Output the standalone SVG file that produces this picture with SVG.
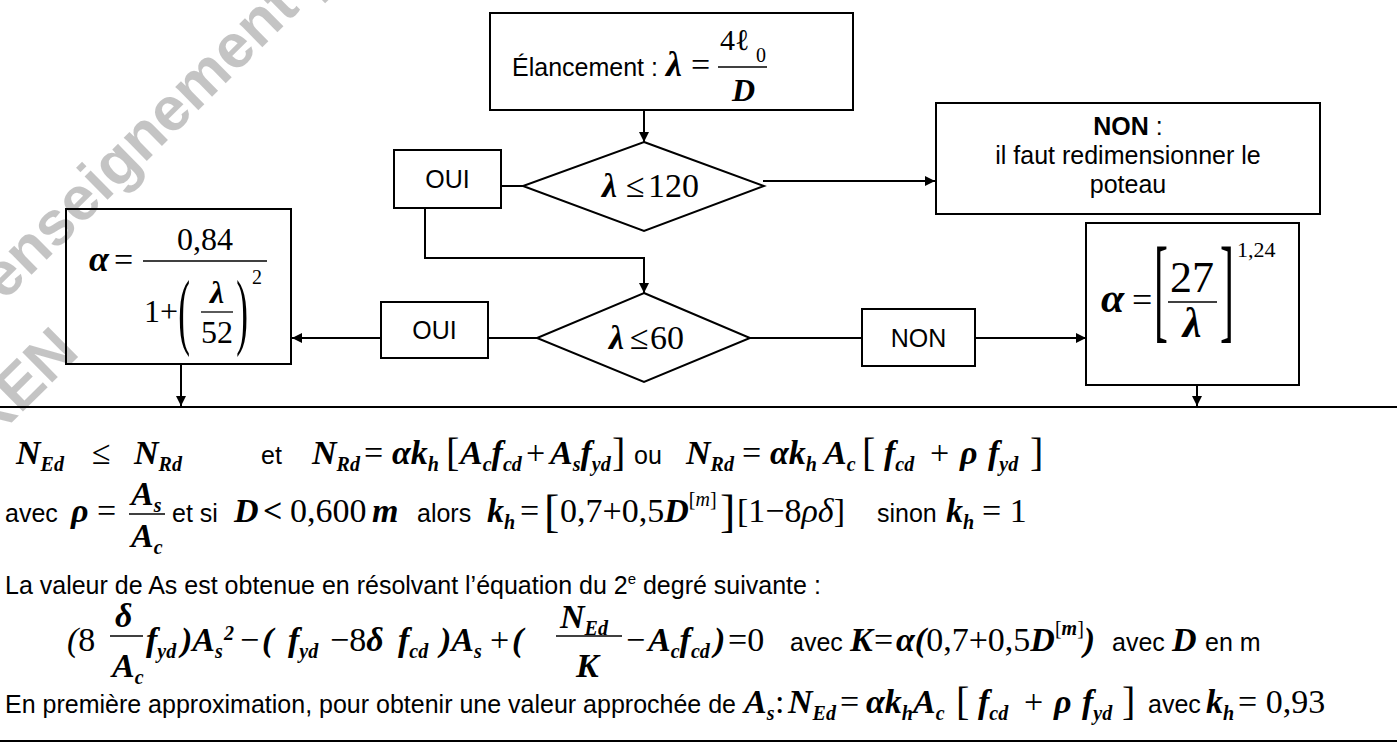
<svg xmlns="http://www.w3.org/2000/svg" width="1397" height="752" viewBox="0 0 1397 752">
<defs>
<marker id="ah" viewBox="0 0 10 10" refX="10" refY="5" markerWidth="10" markerHeight="11" markerUnits="userSpaceOnUse" orient="auto">
<path d="M0,0 L10,5 L0,10 Z" fill="#000"/>
</marker>
<style>
.box{fill:#fff;stroke:#000;stroke-width:2}
.ln{fill:none;stroke:#000;stroke-width:2}
.bar{fill:none;stroke:#000;stroke-width:1.3}
.arr{fill:none;stroke:#000;stroke-width:2;marker-end:url(#ah)}
.t{font-family:"Liberation Sans",Arial,sans-serif;font-size:25px;fill:#000}
.m{font-family:"Liberation Serif","Times New Roman",serif;font-size:34px;fill:#000}
.bi{font-weight:bold;font-style:italic}
.it{font-style:italic}
.s{font-size:20px}
.wm{font-family:"Liberation Sans",Arial,sans-serif;font-size:62px;font-weight:bold;fill:#000;fill-opacity:0.23}
</style>
</defs>
<rect width="1397" height="752" fill="#fff"/>
<g id="connectors">
<line class="arr" x1="644" y1="110" x2="644" y2="142"/>
<line class="arr" x1="763" y1="181" x2="935" y2="181"/>
<line class="ln" x1="501" y1="186" x2="523" y2="186"/>
<path class="arr" d="M425,208 V258 H644 V293"/>
<line class="ln" x1="537" y1="338" x2="488" y2="338"/>
<line class="arr" x1="381" y1="338" x2="292" y2="338"/>
<line class="ln" x1="750" y1="338" x2="862" y2="338"/>
<line class="arr" x1="975" y1="338" x2="1086" y2="338"/>
<line class="arr" x1="181" y1="364" x2="181" y2="406"/>
<line class="arr" x1="1197" y1="385" x2="1197" y2="406"/>
<line class="ln" x1="0" y1="407" x2="1397" y2="407"/>
<line class="ln" x1="0" y1="741" x2="1397" y2="741"/>
</g>
<g id="elancement">
<rect class="box" x="490" y="13" width="363" height="97"/>
<text class="t" x="512" y="76">Élancement :</text>
<text class="m bi" x="666" y="76" style="font-size:36px">λ</text>
<text class="m" x="691" y="76">=</text>
<line class="bar" x1="718" y1="67" x2="767" y2="67"/>
<text class="m" x="720" y="50" style="font-size:30px">4ℓ</text>
<text class="m" x="756" y="62" style="font-size:20px">0</text>
<text class="m bi" x="732" y="101" style="font-size:32px">D</text>
</g>
<g id="oui1">
<rect class="box" x="394" y="150" width="107" height="58"/>
<text class="t" x="447.5" y="188" text-anchor="middle">OUI</text>
</g>
<g id="decision120">
<polygon class="box" points="644,142 764,186 644,231 523,186"/>
<text class="m" x="602" y="197"><tspan class="bi">λ</tspan><tspan x="626">≤</tspan><tspan x="648">120</tspan></text>
</g>
<g id="non1">
<rect class="box" x="936" y="103" width="384" height="111"/>
<text class="t" x="1128" y="135" text-anchor="middle"><tspan font-weight="bold">NON</tspan> :</text>
<text class="t" x="1128" y="164" text-anchor="middle">il faut redimensionner le</text>
<text class="t" x="1128" y="193" text-anchor="middle">poteau</text>
</g>
<g id="decision60">
<polygon class="box" points="644,293 750,338 644,382 537,338"/>
<text class="m" x="609" y="349"><tspan class="bi">λ</tspan><tspan x="630">≤</tspan><tspan x="650">60</tspan></text>
</g>
<g id="oui2">
<rect class="box" x="381" y="302" width="107" height="56"/>
<text class="t" x="434.5" y="339" text-anchor="middle">OUI</text>
</g>
<g id="non2">
<rect class="box" x="862" y="309" width="113" height="57"/>
<text class="t" x="918.5" y="347" text-anchor="middle">NON</text>
</g>
<g id="alpha-left">
<rect class="box" x="66" y="209" width="225" height="155"/>
<text class="m bi" x="89" y="271" style="font-size:36px">α</text>
<text class="m" x="114" y="271">=</text>
<line class="bar" x1="143" y1="261" x2="267" y2="261"/>
<text class="m" x="205" y="250" text-anchor="middle" style="font-size:32px">0,84</text>
<text class="m" x="144" y="322" style="font-size:32px">1+</text>
<text class="m" text-anchor="middle" transform="translate(184,339) scale(0.42,1)" style="font-size:84px">(</text>
<text class="m bi" x="217" y="303" text-anchor="middle" style="font-size:32px">λ</text>
<line class="bar" x1="201" y1="312" x2="233" y2="312"/>
<text class="m" x="217" y="343" text-anchor="middle" style="font-size:32px">52</text>
<text class="m" text-anchor="middle" transform="translate(242,339) scale(0.42,1)" style="font-size:84px">)</text>
<text class="m" x="252" y="284" style="font-size:20px">2</text>
</g>
<g id="alpha-right">
<rect class="box" x="1086" y="223" width="213" height="162"/>
<text class="m bi" x="1101" y="312" style="font-size:42px">α</text>
<text class="m" x="1132" y="312" style="font-size:36px">=</text>
<text class="m" text-anchor="middle" transform="translate(1161,327) scale(0.36,1)" style="font-size:116px">[</text>
<text class="m" x="1192" y="292" text-anchor="middle" style="font-size:44px">27</text>
<line class="bar" x1="1168" y1="302" x2="1217" y2="302"/>
<text class="m bi" x="1192" y="337" text-anchor="middle" style="font-size:42px">λ</text>
<text class="m" text-anchor="middle" transform="translate(1227,327) scale(0.36,1)" style="font-size:116px">]</text>
<text class="m" x="1237" y="257" style="font-size:22px">1,24</text>
</g>
<g id="formulas">
<text class="m"><tspan class="bi" x="16" y="464">N</tspan><tspan class="bi s" y="471">Ed</tspan><tspan x="92" y="464">≤</tspan><tspan class="bi" x="134" y="464">N</tspan><tspan class="bi s" y="471">Rd</tspan></text>
<text class="t" x="261" y="464">et</text>
<text class="m"><tspan class="bi" x="312" y="464">N</tspan><tspan class="bi s" y="471">Rd</tspan><tspan x="364" y="464">=</tspan><tspan class="bi" x="392" y="464">αk</tspan><tspan class="bi s" y="471">h</tspan><tspan x="446" y="466" font-size="40">[</tspan><tspan class="bi" x="460" y="464">A</tspan><tspan class="bi s" y="471">c</tspan><tspan class="bi" y="464">f</tspan><tspan class="bi s" y="471">cd</tspan><tspan x="526" y="464">+</tspan><tspan class="bi" x="550" y="464">A</tspan><tspan class="bi s" y="471">s</tspan><tspan class="bi" y="464">f</tspan><tspan class="bi s" y="471">yd</tspan><tspan x="612" y="466" font-size="40">]</tspan></text>
<text class="t" x="634" y="464">ou</text>
<text class="m"><tspan class="bi" x="686" y="464">N</tspan><tspan class="bi s" y="471">Rd</tspan><tspan x="742" y="464">=</tspan><tspan class="bi" x="770" y="464">αk</tspan><tspan class="bi s" y="471">h</tspan><tspan class="bi" x="824" y="464">A</tspan><tspan class="bi s" y="471">c</tspan><tspan x="862" y="466" font-size="40">[</tspan><tspan class="bi" x="884" y="464">f</tspan><tspan class="bi s" y="471">cd</tspan><tspan x="930" y="464">+</tspan><tspan class="bi" x="960" y="464">ρ</tspan><tspan class="bi" x="988" y="464">f</tspan><tspan class="bi s" y="471">yd</tspan><tspan x="1030" y="466" font-size="40">]</tspan></text>

<text class="t" x="5" y="522">avec</text>
<text class="m"><tspan class="bi" x="71" y="522">ρ</tspan><tspan x="97" y="522">=</tspan></text>
<text class="m bi"><tspan x="131" y="505">A</tspan><tspan class="s" y="512">s</tspan></text>
<line class="bar" x1="129" y1="514" x2="165" y2="514"/>
<text class="m bi"><tspan x="131" y="547">A</tspan><tspan class="s" y="554">c</tspan></text>
<text class="t" x="172" y="522">et si</text>
<text class="m"><tspan class="bi" x="234" y="522">D</tspan><tspan x="263" y="522" font-weight="bold">&lt;</tspan><tspan x="290" y="522">0,600</tspan><tspan class="bi" x="372" y="522">m</tspan></text>
<text class="t" x="417" y="522">alors</text>
<text class="m"><tspan class="bi" x="487" y="522">k</tspan><tspan class="bi s" y="529">h</tspan><tspan x="520" y="522">=</tspan><tspan x="544" y="527" font-size="46">[</tspan><tspan x="560" y="522">0,7+0,5</tspan><tspan class="bi" y="522">D</tspan><tspan class="s" y="506">[</tspan><tspan class="s it" y="506">m</tspan><tspan class="s" y="506">]</tspan><tspan x="720" y="527" font-size="46">]</tspan><tspan x="737" y="522">[1−8</tspan><tspan class="it" y="522">ρδ</tspan><tspan y="522">]</tspan></text>
<text class="t" x="877" y="522">sinon</text>
<text class="m"><tspan class="bi" x="946" y="522">k</tspan><tspan class="bi s" y="529">h</tspan><tspan x="982" y="522">= 1</tspan></text>

<text class="t" x="5" y="594">La valeur de As est obtenue en résolvant l’équation du 2<tspan font-size="15" dy="-10">e</tspan><tspan dy="10"> degré suivante :</tspan></text>

<text class="m" x="67" y="651"><tspan class="it">(</tspan>8</text>
<text class="m bi" x="115" y="627">δ</text>
<line class="bar" x1="110" y1="636" x2="143" y2="636"/>
<text class="m bi"><tspan x="112" y="677">A</tspan><tspan class="s" y="684">c</tspan></text>
<text class="m"><tspan class="bi" x="146" y="651">f</tspan><tspan class="bi s" y="658">yd</tspan><tspan class="bi" x="181" y="651">)A</tspan><tspan class="bi s" y="658">s</tspan><tspan class="bi s" x="224" y="640">2</tspan><tspan x="240" y="651">−</tspan><tspan class="bi" x="262" y="651">(</tspan><tspan class="bi" x="288" y="651">f</tspan><tspan class="bi s" y="658">yd</tspan><tspan x="330" y="651">−8</tspan><tspan class="bi" y="651">δ</tspan><tspan class="bi" x="398" y="651">f</tspan><tspan class="bi s" y="658">cd</tspan><tspan class="bi" x="440" y="651">)A</tspan><tspan class="bi s" y="658">s</tspan><tspan x="490" y="651">+</tspan><tspan class="bi" x="512" y="651">(</tspan></text>
<text class="m bi"><tspan x="560" y="628">N</tspan><tspan class="s" y="635">Ed</tspan></text>
<line class="bar" x1="556" y1="636" x2="622" y2="636"/>
<text class="m bi" x="576" y="677">K</text>
<text class="m"><tspan x="626" y="651">−</tspan><tspan class="bi" x="648" y="651">A</tspan><tspan class="bi s" y="658">c</tspan><tspan class="bi" y="651">f</tspan><tspan class="bi s" y="658">cd</tspan><tspan class="bi" x="714" y="651">)</tspan><tspan x="728" y="651">=0</tspan></text>
<text class="t" x="790" y="651">avec</text>
<text class="m"><tspan class="bi" x="850" y="651">K</tspan><tspan x="874" y="651">=</tspan><tspan class="bi" x="896" y="651">α(</tspan><tspan y="651">0,7+0,5</tspan><tspan class="bi" y="651">D</tspan><tspan class="s" y="635">[</tspan><tspan class="s bi" y="635">m</tspan><tspan class="s" y="635">]</tspan><tspan class="bi" y="651">)</tspan></text>
<text class="t" x="1112" y="651">avec</text>
<text class="m bi" x="1172" y="651">D</text>
<text class="t" x="1205" y="651">en m</text>

<text class="t" x="5" y="713">En première approximation, pour obtenir une valeur approchée de</text>
<text class="m"><tspan class="bi" x="744" y="713">A</tspan><tspan class="bi s" y="720">s</tspan><tspan x="775" y="713">:</tspan><tspan class="bi" x="788" y="713">N</tspan><tspan class="bi s" y="720">Ed</tspan><tspan x="840" y="713">=</tspan><tspan class="bi" x="866" y="713">αk</tspan><tspan class="bi s" y="720">h</tspan><tspan class="bi" y="713">A</tspan><tspan class="bi s" y="720">c</tspan><tspan x="956" y="715" font-size="40">[</tspan><tspan class="bi" x="978" y="713">f</tspan><tspan class="bi s" y="720">cd</tspan><tspan x="1024" y="713">+</tspan><tspan class="bi" x="1054" y="713">ρ</tspan><tspan class="bi" x="1082" y="713">f</tspan><tspan class="bi s" y="720">yd</tspan><tspan x="1122" y="715" font-size="40">]</tspan></text>
<text class="t" x="1148" y="713">avec</text>
<text class="m"><tspan class="bi" x="1206" y="713">k</tspan><tspan class="bi s" y="720">h</tspan><tspan x="1238" y="713">= 0,93</tspan></text>
</g>
<g id="watermark">
<text class="wm" transform="translate(4,302) rotate(-44.6)">enseignement p</text>
<text class="wm" transform="translate(-12,446) rotate(-44.6)">REN</text>
</g>
</svg>
